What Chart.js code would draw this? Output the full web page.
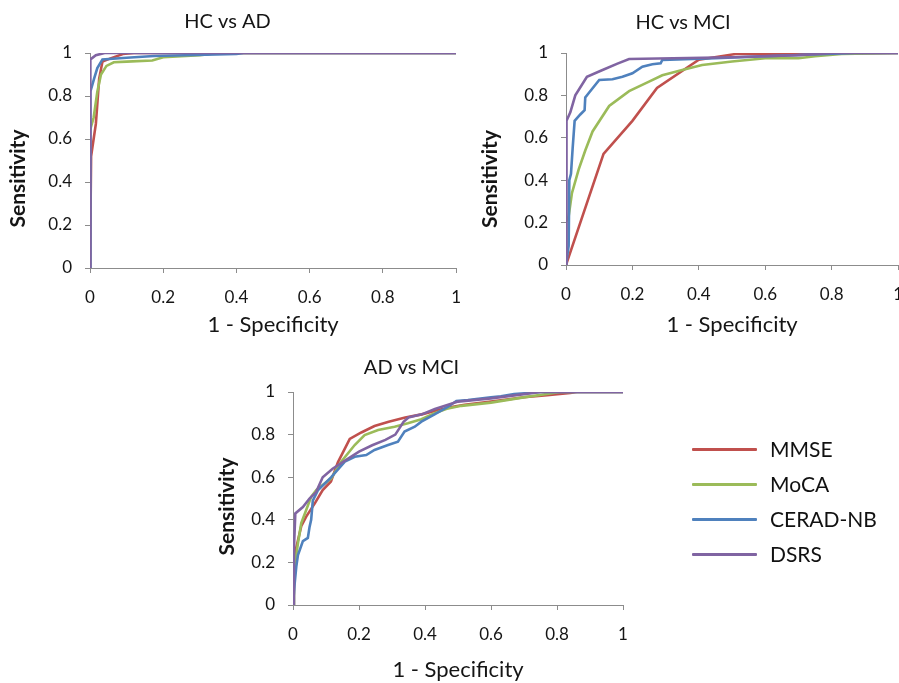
<!DOCTYPE html>
<html><head><meta charset="utf-8">
<script src="https://cdn.jsdelivr.net/npm/chart.js@4"></script>
<style>
html,body{margin:0;padding:0;background:#fff;overflow:hidden;width:899px;height:683px;position:relative;}
canvas{position:absolute;}
.li{position:absolute;height:3px;width:65px;left:692px;border-radius:1px;}
.lt{position:absolute;left:770px;font-family:Lato,sans-serif;font-size:21px;color:#111;line-height:24px;white-space:nowrap;}
</style></head><body>
<canvas id="c1" width="495" height="340" style="left:-20px;top:0px"></canvas>
<canvas id="c2" width="468" height="340" style="left:449px;top:0px"></canvas>
<canvas id="c3" width="534" height="343" style="left:200px;top:340px"></canvas>
<div id="legend"></div>
<script>
// ---- data ----
const seriesNames = ['MMSE', 'MoCA', 'CERAD-NB', 'DSRS'];
const chartTitles = ['HC vs AD', 'HC vs MCI', 'AD vs MCI'];
const tickValues = [0, 0.2, 0.4, 0.6, 0.8, 1];
const tickLabels = ['0', '0.2', '0.4', '0.6', '0.8', '1'];
const xAxisTitle = '1 - Specificity';
const yAxisTitle = 'Sensitivity';

// HC vs AD  [1 - specificity, sensitivity]
const hcAdMMSE = [[0,0],[0.003,0.52],[0.016,0.67],[0.025,0.88],[0.034,0.96],[0.056,0.975],[0.09,0.995],[0.12,1],[1,1]];
const hcAdMoCA = [[0,0],[0,0.64],[0.01,0.7],[0.02,0.82],[0.03,0.9],[0.045,0.94],[0.065,0.957],[0.1,0.96],[0.17,0.965],[0.2,0.98],[0.3,0.99],[0.35,1],[1,1]];
const hcAdCERAD = [[0,0],[0,0.15],[0.002,0.82],[0.011,0.88],[0.02,0.93],[0.034,0.97],[0.1,0.978],[0.175,0.986],[0.4,0.995],[0.42,1],[1,1]];
const hcAdDSRS = [[0,0],[0,0.68],[0.002,0.97],[0.016,0.99],[0.04,1],[1,1]];

// HC vs MCI
const hcMciMMSE = [[0,0],[0.113,0.524],[0.2,0.68],[0.274,0.835],[0.4,0.968],[0.51,0.995],[1,1]];
const hcMciMoCA = [[0,0],[0,0.2],[0.008,0.23],[0.018,0.34],[0.038,0.45],[0.058,0.54],[0.08,0.63],[0.13,0.75],[0.19,0.82],[0.25,0.865],[0.29,0.895],[0.35,0.92],[0.41,0.943],[0.5,0.96],[0.6,0.975],[0.7,0.975],[0.75,0.985],[0.83,0.995],[1,1]];
const hcMciCERAD = [[0,0],[0.008,0.09],[0.01,0.4],[0.015,0.43],[0.02,0.55],[0.026,0.68],[0.043,0.71],[0.056,0.73],[0.058,0.79],[0.068,0.81],[0.1,0.873],[0.14,0.876],[0.17,0.888],[0.2,0.904],[0.23,0.935],[0.26,0.947],[0.285,0.951],[0.29,0.967],[0.45,0.975],[0.6,0.985],[0.87,1],[1,1]];
const hcMciDSRS = [[0,0],[0,0.4],[0.003,0.68],[0.013,0.72],[0.028,0.8],[0.063,0.888],[0.11,0.92],[0.155,0.95],[0.19,0.972],[0.5,0.98],[0.7,0.99],[0.8,1],[1,1]];

// AD vs MCI
const adMciMMSE = [[0,0],[0.005,0.2],[0.01,0.27],[0.025,0.37],[0.04,0.415],[0.066,0.477],[0.09,0.54],[0.115,0.58],[0.136,0.67],[0.172,0.78],[0.207,0.81],[0.247,0.84],[0.29,0.86],[0.34,0.88],[0.39,0.895],[0.44,0.915],[0.48,0.93],[0.52,0.94],[0.6,0.955],[0.7,0.975],[0.77,0.985],[0.84,0.995],[0.86,1],[1,1]];
const adMciMoCA = [[0,0],[0.003,0.1],[0.005,0.18],[0.015,0.29],[0.025,0.384],[0.04,0.446],[0.055,0.508],[0.071,0.54],[0.116,0.595],[0.146,0.673],[0.187,0.751],[0.217,0.798],[0.258,0.822],[0.308,0.837],[0.348,0.853],[0.389,0.872],[0.429,0.9],[0.47,0.923],[0.51,0.935],[0.6,0.95],[0.708,0.977],[0.79,0.995],[0.81,1],[1,1]];
const adMciCERAD = [[0,0],[0.005,0.1],[0.01,0.18],[0.015,0.235],[0.03,0.3],[0.045,0.315],[0.05,0.365],[0.055,0.4],[0.06,0.49],[0.076,0.54],[0.116,0.6],[0.157,0.673],[0.187,0.696],[0.222,0.704],[0.247,0.728],[0.288,0.751],[0.318,0.767],[0.338,0.814],[0.369,0.837],[0.389,0.861],[0.429,0.895],[0.47,0.931],[0.495,0.958],[0.53,0.962],[0.6,0.975],[0.63,0.98],[0.67,0.99],[0.75,1],[1,1]];
const adMciDSRS = [[0,0],[0.003,0.27],[0.007,0.43],[0.03,0.46],[0.05,0.5],[0.07,0.53],[0.09,0.6],[0.12,0.64],[0.16,0.68],[0.2,0.72],[0.24,0.75],[0.28,0.775],[0.31,0.8],[0.335,0.86],[0.35,0.88],[0.39,0.895],[0.43,0.92],[0.47,0.94],[0.5,0.955],[0.6,0.97],[0.7,0.99],[0.75,1],[1,1]];

// ---- styles ----
const seriesColors = ['#C0504D', '#9BBB59', '#4F81BD', '#8064A2'];
const axisColor = '#8c8c8c';
const textColor = '#151515';
const fontFamily = 'Lato, sans-serif';

function makeDatasets(seriesData) {
  return seriesData.map((pts, i) => ({
    label: seriesNames[i],
    data: pts.map(p => ({x: p[0], y: p[1]})),
    borderColor: seriesColors[i],
    backgroundColor: seriesColors[i],
    borderWidth: 2.6,
    pointRadius: 0,
    tension: 0,
    fill: false,
    order: seriesData.length - i
  }));
}

function setTicks(scale) { scale.ticks = tickValues.map(v => ({value: v})); }

// draws the y-axis title, slightly below the plot's middle as in the original
const yTitlePlugin = {
  id: 'yTitle',
  afterDraw(chart, args, opts) {
    const {ctx, chartArea} = chart;
    ctx.save();
    ctx.fillStyle = textColor;
    ctx.font = 'bold 21px ' + fontFamily;
    ctx.textAlign = 'center';
    ctx.textBaseline = 'middle';
    ctx.translate(opts.x, (chartArea.top + chartArea.bottom) / 2 + opts.dy);
    ctx.rotate(-Math.PI / 2);
    ctx.fillText(yAxisTitle, 0, 0);
    ctx.restore();
  }
};

function makeChart(id, title, seriesData, g) {
  const common = {
    type: 'linear', min: 0, max: 1,
    border: {display: true, color: axisColor, width: 1},
    grid: {drawOnChartArea: false, drawTicks: true, tickLength: 5, color: axisColor, lineWidth: 1},
    afterBuildTicks: setTicks
  };
  return new Chart(document.getElementById(id), {
    type: 'line',
    data: {datasets: makeDatasets(seriesData)},
    plugins: [yTitlePlugin],
    options: {
      responsive: false,
      animation: false,
      devicePixelRatio: 1,
      layout: {padding: {left: 0, right: g.padRight, top: 0, bottom: 0}},
      plugins: {
        legend: {display: false},
        tooltip: {enabled: false},
        yTitle: {x: g.yTitleX, dy: g.yTitleDy},
        title: {
          display: true, text: title, color: textColor,
          font: {family: fontFamily, size: 20, weight: 'normal', lineHeight: 1.2},
          padding: {top: g.titleTop, bottom: g.titleBottom}
        }
      },
      scales: {
        x: Object.assign({}, common, {
          ticks: {color: textColor, font: {family: fontFamily, size: 17}, padding: g.xTickPad, maxRotation: 0,
                  autoSkip: false, callback: (v, i) => tickLabels[i]},
          title: {display: true, text: xAxisTitle, color: textColor,
                  font: {family: fontFamily, size: 22, weight: 'normal', lineHeight: 1.2},
                  padding: {top: 0, bottom: g.xTitleBottom}},
          afterFit: s => { s.height = g.xH; }
        }),
        y: Object.assign({}, common, {
          ticks: {color: textColor, font: {family: fontFamily, size: 17}, padding: 13,
                  autoSkip: false, callback: (v, i) => tickLabels[i]},
          afterFit: s => { s.width = g.yW; }
        })
      }
    }
  });
}

makeChart('c1', chartTitles[0], [hcAdMMSE, hcAdMoCA, hcAdCERAD, hcAdDSRS],
  {padRight: 0, titleTop: 10, titleBottom: 19, xTickPad: 14, xTitleBottom: 2, xH: 72, yW: 110, yTitleX: 38, yTitleDy: 18});
makeChart('c2', chartTitles[1], [hcMciMMSE, hcMciMoCA, hcMciCERAD, hcMciDSRS],
  {padRight: 0, titleTop: 11, titleBottom: 18, xTickPad: 14, xTitleBottom: 2, xH: 75, yW: 117, yTitleX: 41, yTitleDy: 20});
makeChart('c3', chartTitles[2], [adMciMMSE, adMciMoCA, adMciCERAD, adMciDSRS],
  {padRight: 111, titleTop: 16, titleBottom: 12, xTickPad: 14, xTitleBottom: 0, xH: 78, yW: 93, yTitleX: 27, yTitleDy: 8});

// legend
const legendRowsY = [449, 484, 519, 554];
const legend = document.getElementById('legend');
seriesNames.forEach((name, i) => {
  const line = document.createElement('div');
  line.className = 'li';
  line.style.top = (legendRowsY[i] - 1.5) + 'px';
  line.style.background = seriesColors[i];
  legend.appendChild(line);
  const t = document.createElement('div');
  t.className = 'lt';
  t.style.top = (legendRowsY[i] - 12) + 'px';
  t.textContent = name;
  legend.appendChild(t);
});
</script>
</body></html>
